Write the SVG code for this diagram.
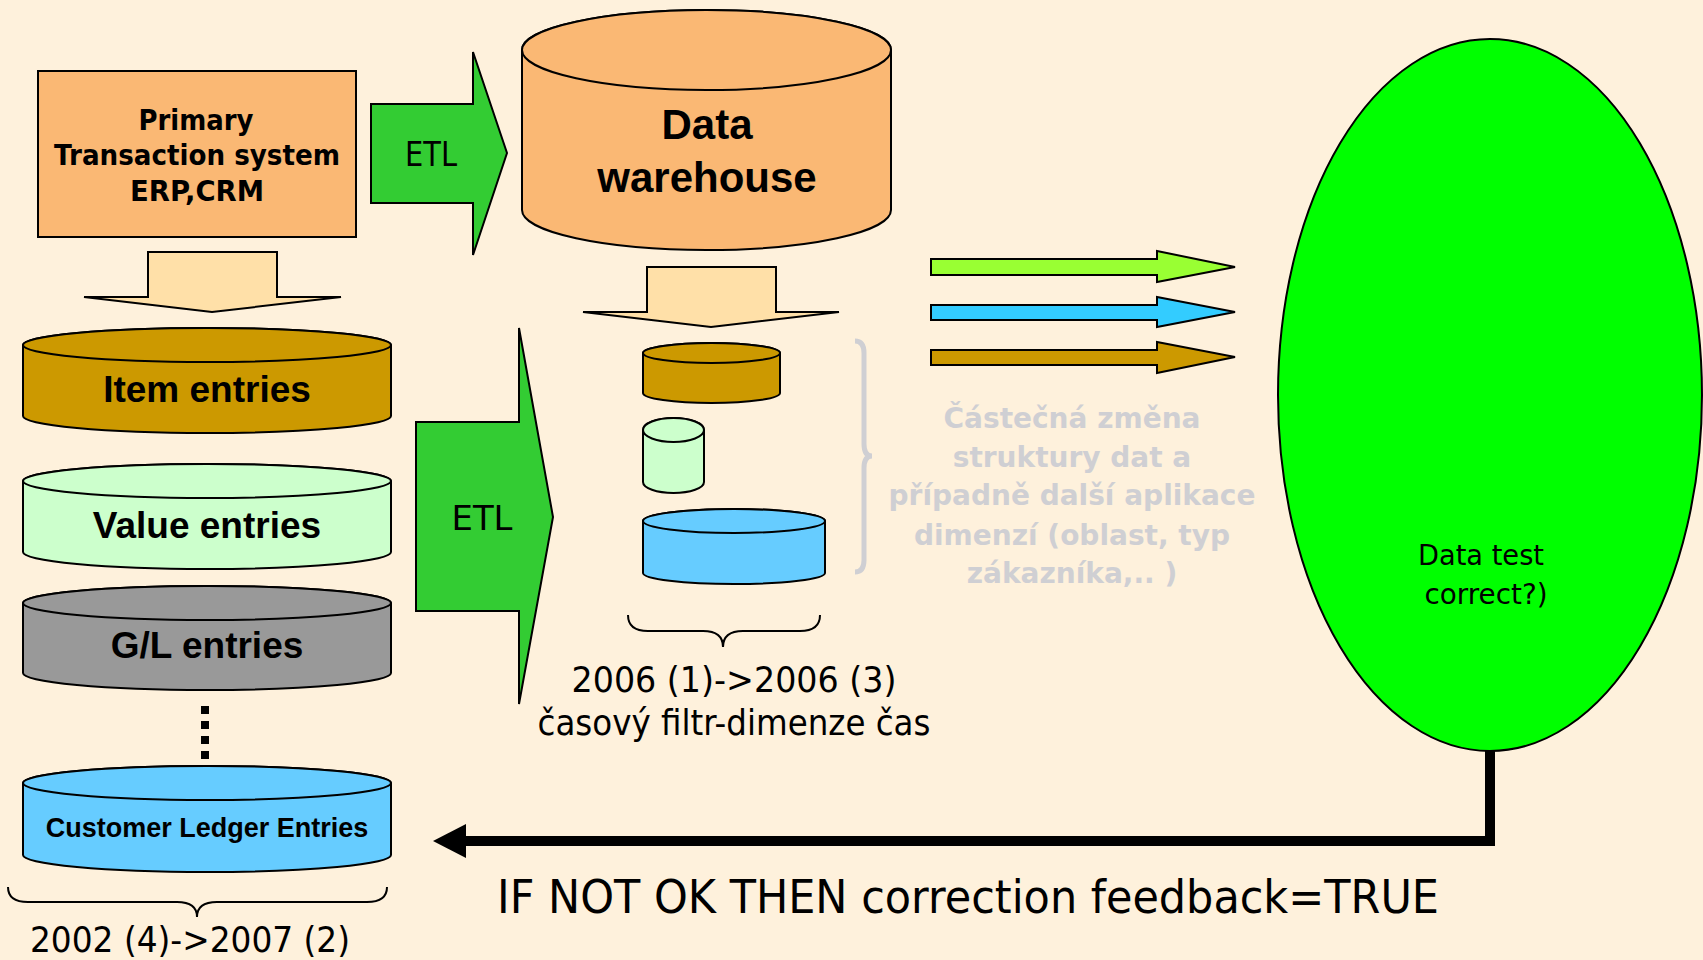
<svg xmlns="http://www.w3.org/2000/svg" width="1703" height="960" viewBox="0 0 1703 960">
<style>
.s{stroke:#000;stroke-width:2}
.b{font-family:"DejaVu Sans",Verdana,sans-serif;font-weight:bold;text-anchor:middle}
.r{font-family:"DejaVu Sans",Verdana,sans-serif;text-anchor:middle}
.a{font-family:"Liberation Sans",Arial,sans-serif;font-weight:bold;text-anchor:middle}
.g{font-family:"DejaVu Sans",Verdana,sans-serif;font-weight:bold;text-anchor:middle;fill:#CFCFD3;font-size:28px}
.etl{fill:#33CC33;stroke:#000;stroke-width:2}
.dn{fill:#FFE0A8;stroke:#000;stroke-width:2}
</style>
<rect width="1703" height="960" fill="#FEF1DC"/>

<g id="primary">
<rect x="38" y="71" width="318" height="166" fill="#FAB874" class="s"/>
<text class="b" font-size="28" x="196" y="130" textLength="115" lengthAdjust="spacingAndGlyphs">Primary</text>
<text class="b" font-size="28" x="197" y="165" textLength="286" lengthAdjust="spacingAndGlyphs">Transaction system</text>
<text class="b" font-size="28" x="197" y="201" textLength="134" lengthAdjust="spacingAndGlyphs">ERP,CRM</text>
</g>

<g id="etl1">
<polygon class="etl" points="371,104 473,104 473,52 507,153 473,255 473,203 371,203"/>
<text class="r" font-size="34" x="431" y="166" textLength="52" lengthAdjust="spacingAndGlyphs">ETL</text>
</g>

<g id="dw">
<path d="M522,50 V210 A184.5,40 0 0 0 891,210 V50 A184.5,40 0 0 0 522,50 Z" fill="#FAB874" class="s"/>
<ellipse cx="706.5" cy="50" rx="184.5" ry="40" fill="#FAB874" class="s"/>
<text class="a" font-size="42" x="707" y="139">Data</text>
<text class="a" font-size="42" x="707" y="192">warehouse</text>
</g>

<g id="down1"><polygon class="dn" points="148,252 277,252 277,297 341,297 212,312 84,297 148,297"/></g>
<g id="down2"><polygon class="dn" points="647,267 776,267 776,312 839,312 711,327 583,312 647,312"/></g>

<g id="item">
<path d="M23,345 V416 A184,17 0 0 0 391,416 V345 A184,17 0 0 0 23,345 Z" fill="#CC9900" class="s"/>
<ellipse cx="207" cy="345" rx="184" ry="17" fill="#CC9900" class="s"/>
<text class="a" font-size="37" x="207" y="402">Item entries</text>
</g>

<g id="value">
<path d="M23,481 V552 A184,17 0 0 0 391,552 V481 A184,17 0 0 0 23,481 Z" fill="#CCFFCC" class="s"/>
<ellipse cx="207" cy="481" rx="184" ry="17" fill="#CCFFCC" class="s"/>
<text class="a" font-size="37" x="207" y="538">Value entries</text>
</g>

<g id="gl">
<path d="M23,603 V673 A184,17 0 0 0 391,673 V603 A184,17 0 0 0 23,603 Z" fill="#999999" class="s"/>
<ellipse cx="207" cy="603" rx="184" ry="17" fill="#999999" class="s"/>
<text class="a" font-size="37" x="207" y="658">G/L entries</text>
</g>

<g id="customer">
<path d="M23,783 V855 A184,17 0 0 0 391,855 V783 A184,17 0 0 0 23,783 Z" fill="#66CCFF" class="s"/>
<ellipse cx="207" cy="783" rx="184" ry="17" fill="#66CCFF" class="s"/>
<text class="a" font-size="27" x="207" y="837">Customer Ledger Entries</text>
</g>

<g id="etl2">
<polygon class="etl" points="416,422 519,422 519,328 553,517 519,704 519,611 416,611"/>
<text class="r" font-size="34" x="482" y="530" textLength="61" lengthAdjust="spacingAndGlyphs">ETL</text>
</g>

<g id="small-item">
<path d="M643,353 V393 A68.5,10 0 0 0 780,393 V353 A68.5,10 0 0 0 643,353 Z" fill="#CC9900" class="s"/>
<ellipse cx="711.5" cy="353" rx="68.5" ry="10" fill="#CC9900" class="s"/>
</g>
<g id="small-value">
<path d="M643,430 V482 A30.5,11 0 0 0 704,482 V430 A30.5,12 0 0 0 643,430 Z" fill="#CCFFCC" class="s"/>
<ellipse cx="673.5" cy="430" rx="30.5" ry="12" fill="#CCFFCC" class="s"/>
</g>
<g id="small-customer">
<path d="M643,521 V573 A91,11 0 0 0 825,573 V521 A91,12 0 0 0 643,521 Z" fill="#66CCFF" class="s"/>
<ellipse cx="734" cy="521" rx="91" ry="12" fill="#66CCFF" class="s"/>
</g>

<g id="test">
<ellipse cx="1490" cy="395" rx="212" ry="356" fill="#00FF00" class="s"/>
<text class="r" font-size="28" x="1481" y="565" textLength="126" lengthAdjust="spacingAndGlyphs">Data test</text>
<text class="r" font-size="28" x="1486" y="604" textLength="123" lengthAdjust="spacingAndGlyphs">correct?)</text>
</g>

<g id="connectors">
<polygon points="931,259 1157,259 1157,251 1235,267 1157,282 1157,275 931,275" fill="#99FF33" class="s"/>
<polygon points="931,305 1157,305 1157,297 1235,312 1157,327 1157,320 931,320" fill="#33CCFF" class="s"/>
<polygon points="931,350 1157,350 1157,342 1235,357 1157,373 1157,365 931,365" fill="#CC9900" class="s"/>
<line x1="205" y1="706" x2="205" y2="762" stroke="#000" stroke-width="8" stroke-dasharray="8 7"/>
<path d="M1490,751 V841 H462" fill="none" stroke="#000" stroke-width="10"/>
<polygon points="433,841 466,824 466,858" fill="#000"/>
<path d="M855,341 Q864,341 864,353 V444 Q864,456 872,456 Q864,456 864,468 V560 Q864,572 855,572" fill="none" stroke="#CFCFD3" stroke-width="5"/>
<path d="M628,615 Q628,631 648,631 H703 Q723,631 723,647 Q723,631 743,631 H800 Q820,631 820,615" fill="none" stroke="#000" stroke-width="2"/>
<path d="M8,887 Q8,902 28,902 H177 Q197,902 197,917 Q197,902 217,902 H367 Q387,902 387,887" fill="none" stroke="#000" stroke-width="2"/>
</g>

<g id="labels">
<text class="g" x="1072" y="428">Částečná změna</text>
<text class="g" x="1072" y="467">struktury dat a</text>
<text class="g" x="1072" y="505">případně další aplikace</text>
<text class="g" x="1072" y="545">dimenzí (oblast, typ</text>
<text class="g" x="1072" y="583">zákazníka,.. )</text>
<text class="r" font-size="36" x="734" y="692" textLength="325" lengthAdjust="spacingAndGlyphs">2006 (1)-&gt;2006 (3)</text>
<text class="r" font-size="36" x="734" y="735" textLength="393" lengthAdjust="spacingAndGlyphs">časový filtr-dimenze čas</text>
<text class="r" font-size="36" x="190" y="952" textLength="320" lengthAdjust="spacingAndGlyphs">2002 (4)-&gt;2007 (2)</text>
<text class="r" font-size="46" x="968" y="913" textLength="942" lengthAdjust="spacingAndGlyphs">IF NOT OK THEN correction feedback=TRUE</text>
</g>
</svg>
